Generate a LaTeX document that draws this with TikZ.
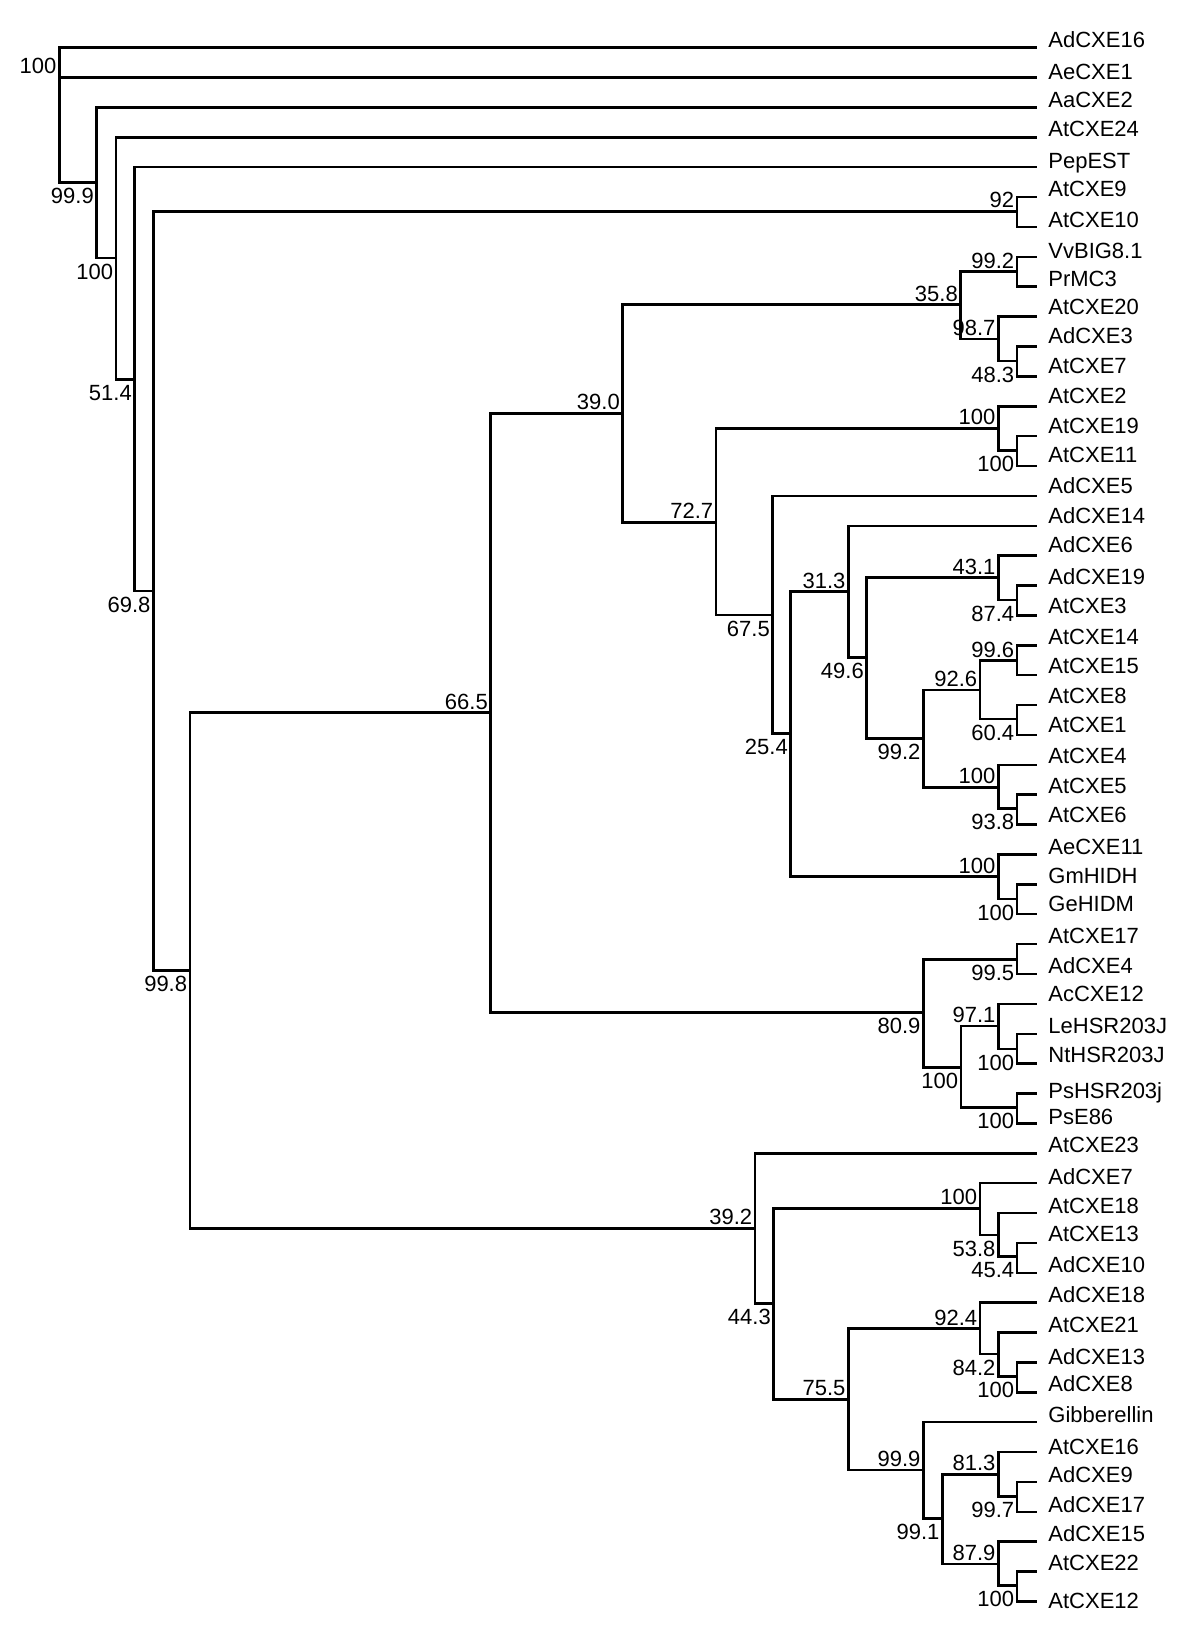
\documentclass[tikz,border=0pt]{standalone}
\usepackage{fontspec}
\setmainfont{Liberation Sans}

\begin{document}
\begin{tikzpicture}[x=0.5pt, y=-0.5pt,
  branch/.style={black, line width=1.25pt},
  taxon/.style={anchor=base west, inner sep=0pt, font=\fontsize{11}{13}\selectfont},
  bsup/.style={anchor=south east, inner sep=0pt, xshift=-1.25pt, yshift=1.5pt, font=\fontsize{11}{13}\selectfont},
  bsdn/.style={anchor=north east, inner sep=0pt, xshift=-1.25pt, yshift=-2.75pt, font=\fontsize{11}{13}\selectfont}]
\useasboundingbox (0,0) rectangle (1200,1633);

% tips and taxon names (index/name/label lift)
\foreach \i/\name/\dy in {0/AdCXE16/8.3, 1/AeCXE1/6.3, 2/AaCXE2/8.3, 3/AtCXE24/8.7,
    4/PepEST/7, 5/AtCXE9/9, 6/AtCXE10/7.3, 7/VvBIG8.1/6, 8/PrMC3/7.7, 9/AtCXE20/10,
    10/AdCXE3/11, 11/AtCXE7/11, 12/AtCXE2/11, 13/AtCXE19/11, 14/AtCXE11/11.7,
    15/AdCXE5/10.3, 16/AdCXE14/10.3, 17/AdCXE6/10.7, 18/AdCXE19/9, 19/AtCXE3/10,
    20/AtCXE14/8.3, 21/AtCXE15/10, 22/AtCXE8/9, 23/AtCXE1/10.7, 24/AtCXE4/9,
    25/AtCXE5/9, 26/AtCXE6/10, 27/AeCXE11/8, 28/GmHIDH/8.3, 29/GeHIDM/10.3,
    30/AtCXE17/8.7, 31/AdCXE4/8.7, 32/AcCXE12/10.7, 33/LeHSR203J/8.3, 34/NtHSR203J/9,
    35/PsHSR203j/3.3, 36/PsE86/6.7, 37/AtCXE23/8.7, 38/AdCXE7/6.7, 39/AtCXE18/7.7,
    40/AtCXE13/9, 41/AdCXE10/8.3, 42/AdCXE18/7.7, 43/AtCXE21/8, 44/AdCXE13/6,
    45/AdCXE8/8.3, 46/Gibberellin/7.7, 47/AtCXE16/5.7, 48/AdCXE9/7.3, 49/AdCXE17/7.3,
    50/AdCXE15/8.3, 51/AtCXE22/9.3, 52/AtCXE12/0.5} {
  \coordinate (t\i) at (1037,{47.7+29.88*\i});
  \node[taxon] (l\i) at (1048,{47.7+29.88*\i-\dy+7.9}) {\name};
}

% inner nodes with bootstrap values
\foreach \n/\x/\y/\s/\v in {rt/59.3/77.3/bsup/100, nA/96.7/182.3/bsdn/99.9,
    nB/116/258/bsdn/100, nC/134.7/379.3/bsdn/51.4, nD/153.3/591/bsdn/69.8,
    nG/1017/211.3/bsup/92, nF/190/970.7/bsdn/99.8, nH/490.7/712.7/bsup/66.5,
    nI/622.7/413.3/bsup/39.0, nJ/960.7/304.7/bsup/35.8, nJa/1017/271.7/bsup/99.2,
    nJb/998.3/339/bsup/98.7, nJc/1017/361/bsdn/48.3, nK/716/522.3/bsup/72.7,
    nKa/998.3/428.3/bsup/100, nKb/1017/450.7/bsdn/100, nL/772.7/615/bsdn/67.5,
    nM/790.7/733.3/bsdn/25.4, nN/848.3/591.7/bsup/31.3, nO/866.7/657.7/bsdn/49.6,
    nP/998.3/577.7/bsup/43.1, nPa/1017/600/bsdn/87.4, nQ/923.3/738.3/bsdn/99.2,
    nR/980/690/bsup/92.6, nRa/1017/660.7/bsup/99.6, nRb/1017/719/bsdn/60.4,
    nS/998.3/787.3/bsup/100, nSa/1017/808.3/bsdn/93.8, nW/998.3/876.7/bsup/100,
    nWa/1017/899/bsdn/100, nX/923.3/1012.7/bsdn/80.9, nXa/1017/959.3/bsdn/99.5,
    nXb/961/1067.3/bsdn/100, nXc/998.3/1026/bsup/97.1, nXd/1017/1049/bsdn/100,
    nXe/1017/1107.3/bsdn/100, nZ/755/1228.3/bsup/39.2, nZa/773.7/1303.3/bsdn/44.3,
    nZb/980/1208.3/bsup/100, nZc/998.3/1235/bsdn/53.8, nZd/1017/1256.7/bsdn/45.4,
    nZe/848.3/1399.3/bsup/75.5, nZf/980/1328.7/bsup/92.4, nZg/998.3/1354/bsdn/84.2,
    nZh/1017/1376.7/bsdn/100, nZi/923.3/1470/bsup/99.9, nY/942.3/1518.3/bsdn/99.1,
    nYa/998.3/1474.3/bsup/81.3, nYb/1017/1496.7/bsdn/99.7, nYc/998.3/1564/bsup/87.9,
    nYd/1017/1585.7/bsdn/100} {
  \coordinate (\n) at (\x,\y);
  \node[\s] (b\n) at (\n) {\v};
}

% branches, parent to child
\foreach \p/\c in {rt/t0, rt/t1, rt/nA, nA/t2, nA/nB, nB/t3, nB/nC, nC/t4, nC/nD,
    nD/nG, nD/nF, nG/t5, nG/t6, nF/nH, nF/nZ, nH/nI, nH/nX, nI/nJ, nI/nK,
    nJ/nJa, nJ/nJb, nJa/t7, nJa/t8, nJb/t9, nJb/nJc, nJc/t10, nJc/t11,
    nK/nKa, nK/nL, nKa/t12, nKa/nKb, nKb/t13, nKb/t14, nL/t15, nL/nM,
    nM/nN, nM/nW, nN/t16, nN/nO, nO/nP, nO/nQ, nP/t17, nP/nPa, nPa/t18, nPa/t19,
    nQ/nR, nQ/nS, nR/nRa, nR/nRb, nRa/t20, nRa/t21, nRb/t22, nRb/t23,
    nS/t24, nS/nSa, nSa/t25, nSa/t26, nW/t27, nW/nWa, nWa/t28, nWa/t29,
    nX/nXa, nX/nXb, nXa/t30, nXa/t31, nXb/nXc, nXb/nXe, nXc/t32, nXc/nXd,
    nXd/t33, nXd/t34, nXe/t35, nXe/t36,
    nZ/t37, nZ/nZa, nZa/nZb, nZa/nZe, nZb/t38, nZb/nZc, nZc/t39, nZc/nZd,
    nZd/t40, nZd/t41, nZe/nZf, nZe/nZi, nZf/t42, nZf/nZg, nZg/t43, nZg/nZh,
    nZh/t44, nZh/t45, nZi/t46, nZi/nY, nY/nYa, nY/nYc, nYa/t47, nYa/nYb,
    nYb/t48, nYb/t49, nYc/t50, nYc/nYd, nYd/t51, nYd/t52}
  \draw[branch] (\p) |- (\c);
\end{tikzpicture}
\end{document}
